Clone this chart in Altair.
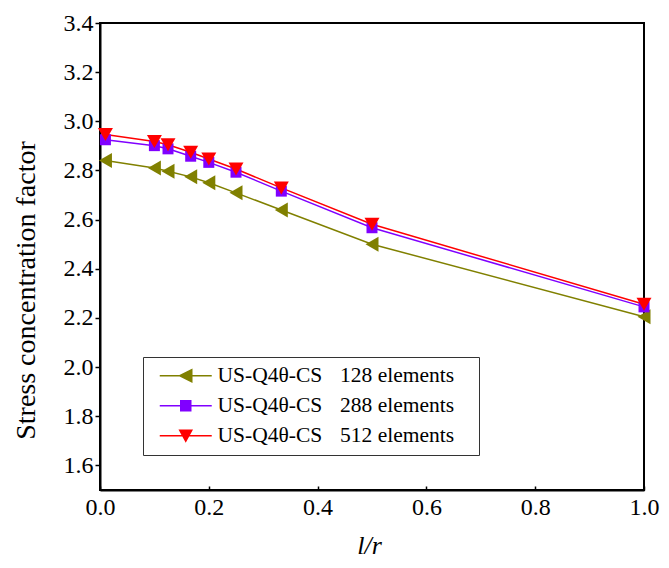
import altair as alt
import pandas as pd

# ---- data ----
lr = [0.01, 0.1, 0.125, 0.1667, 0.2, 0.25, 0.3333, 0.5, 1.0]
scf_128 = [2.841, 2.810, 2.797, 2.774, 2.750, 2.709, 2.639, 2.500, 2.205]
scf_288 = [2.925, 2.901, 2.888, 2.858, 2.833, 2.793, 2.716, 2.567, 2.245]
scf_512 = [2.946, 2.918, 2.905, 2.874, 2.847, 2.806, 2.729, 2.581, 2.256]

gap = "\u00a0\u00a0\u00a0\u200a"
tail = "\u00a0\u00a0\u00a0\u200b"
series_names = [
    f"US-Q4θ-CS{gap}128 elements{tail}",
    f"US-Q4θ-CS{gap}288 elements{tail}",
    f"US-Q4θ-CS{gap}512 elements{tail}",
]
colors = ["#808000", "#8000FF", "#FF0000"]
marker_shapes = ["triangle-left", "square", "triangle-down"]
marker_sizes = [225, 121, 225]
legend_paths = [
    "M-4.333,0H4.333M-1,0L1,-1L1,1Z",
    "M-4.333,0H4.333M-0.833,-0.833H0.833V0.833H-0.833Z",
    "M-4.333,0H4.333M-1,-0.9L1,-0.9L0,0.9Z",
]
x_ticks = [0.0, 0.2, 0.4, 0.6, 0.8, 1.0]
y_ticks = [1.6, 1.8, 2.0, 2.2, 2.4, 2.6, 2.8, 3.0, 3.2, 3.4]

rows = []
for name, vals in zip(series_names, [scf_128, scf_288, scf_512]):
    for x, y in zip(lr, vals):
        rows.append({"lr": x, "scf": y, "series": name})
df = pd.DataFrame(rows)

FONT = "Liberation Serif"

x_scale = alt.Scale(domain=[0, 1], nice=False, zero=False)
y_scale = alt.Scale(domain=[1.5, 3.4], nice=False, zero=False)

x_main = alt.X(
    "lr:Q", scale=x_scale,
    axis=alt.Axis(
        orient="bottom", values=x_ticks, format=".1f", ticks=False, tickSize=0,
        grid=False, domainColor="black", domainWidth=2, labelFlush=False,
        labelFont=FONT, labelFontSize=24, labelColor="black", labelPadding=5,
        title="l/r", titleFont=FONT, titleFontSize=26, titleFontStyle="italic",
        titleFontWeight="normal", titleColor="black",
        titleX=269, titleY=63, titleBaseline="alphabetic", titleAlign="center",
    ),
)
y_main = alt.Y(
    "scf:Q", scale=y_scale,
    axis=alt.Axis(
        values=y_ticks, format=".1f", grid=False, labelFlush=False,
        domainColor="black", domainWidth=2, tickColor="black", tickWidth=1.5, tickSize=5,
        labelFont=FONT, labelFontSize=24, labelColor="black", labelPadding=2,
        title="Stress concentration factor", titleFont=FONT, titleFontSize=28,
        titleFontWeight="normal", titleColor="black", titleAngle=270,
        titleX=-66, titleY=267, titleAlign="center", titleBaseline="alphabetic",
    ),
)
tick_x = alt.X(
    "lr:Q", scale=x_scale,
    axis=alt.Axis(
        orient="bottom", values=x_ticks, labels=False, domain=False, grid=False,
        ticks=True, tickSize=4, tickWidth=1.5, tickColor="black", offset=-4, title=None,
    ),
)
no_x = alt.X("lr:Q", scale=x_scale, axis=None)
plain_y = alt.Y("scf:Q", scale=y_scale)

line_layers = []
point_layers = []
for i, (name, col, shp, sz) in enumerate(zip(series_names, colors, marker_shapes, marker_sizes)):
    base = alt.Chart(df).transform_filter(alt.datum.series == name)
    line_layers.append(
        base.mark_line(strokeWidth=1.5, color=col).encode(
            x=x_main if i == 0 else no_x,
            y=y_main if i == 0 else plain_y,
        )
    )
    point_layers.append(
        base.mark_point(filled=True, opacity=1, shape=shp, size=sz, color=col).encode(
            x=tick_x if i == 0 else no_x,
            y=plain_y,
        )
    )

leg = alt.Legend(
    title=None, orient="none", legendX=43, legendY=334, padding=8,
    strokeColor="#333333", fillColor="white",
    labelFont=FONT, labelFontSize=21.5, labelColor="black", labelLimit=500,
    symbolSize=144, symbolStrokeWidth=1.5, symbolOpacity=1,
    symbolOffset=24, labelOffset=21, rowPadding=7,
)

legend_layer = alt.Chart(df).mark_point(filled=True, opacity=0).encode(
    x=no_x,
    y=plain_y,
    fill=alt.Fill("series:N", scale=alt.Scale(domain=series_names, range=colors),
                  legend=leg, sort=series_names),
    stroke=alt.Stroke("series:N", scale=alt.Scale(domain=series_names, range=colors),
                      legend=leg, sort=series_names),
    shape=alt.Shape("series:N", scale=alt.Scale(domain=series_names, range=legend_paths),
                    legend=leg, sort=series_names),
)

chart = (
    alt.layer(*line_layers, *point_layers, legend_layer)
    .resolve_axis(x="independent")
    .properties(
        width=544, height=467,
        autosize=alt.AutoSizeParams(type="none"),
        padding={"left": 100, "top": 23, "right": 25, "bottom": 78},
        background="white",
    )
    .configure_view(stroke="black", strokeWidth=2)
    .configure_axis(labelFont=FONT, titleFont=FONT)
    .configure_legend(labelFont=FONT)
)

chart.save("out.html", embed_options={"renderer": "svg", "actions": False})
